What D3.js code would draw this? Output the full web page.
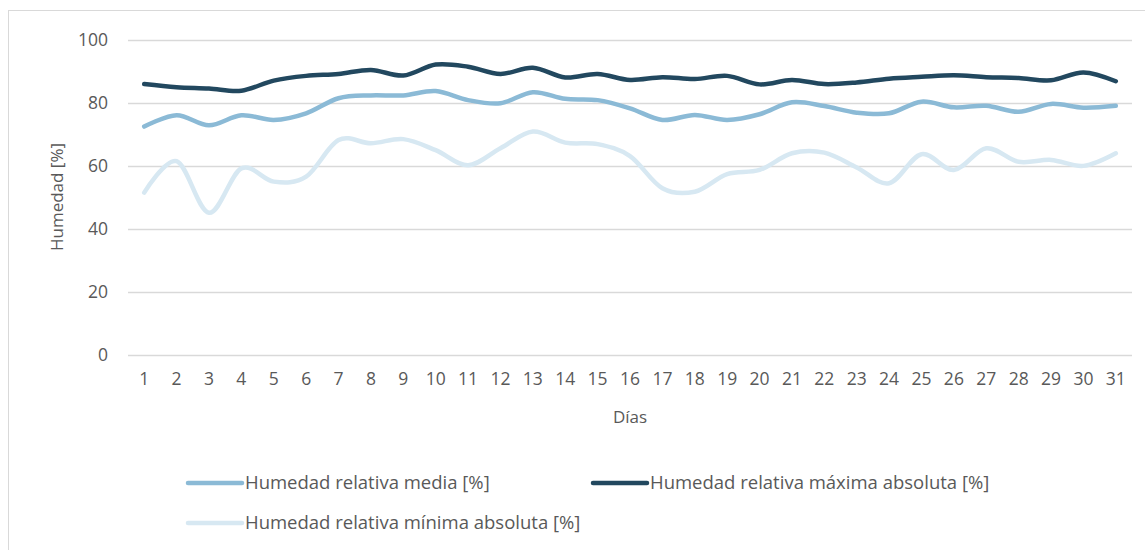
<!DOCTYPE html>
<html>
<head>
<meta charset="utf-8">
<script src="https://cdn.jsdelivr.net/npm/d3@7"></script>
<style>
    body { margin: 0; background: #fff; }
    svg text { font-family: "Open Sans", sans-serif; fill: #595959; }
</style>
</head>
<body>
<div id="chart"></div>
<script>
const days = d3.range(1, 32).map(String);
const yTicks = [0, 20, 40, 60, 80, 100];

const media = [72.5, 76.1, 72.9, 76.1, 74.6, 76.7, 81.5, 82.4, 82.4, 83.8,
    80.9, 79.9, 83.4, 81.3, 80.9, 78.3, 74.6, 76.2, 74.6, 76.4,
    80.2, 79.0, 76.9, 76.7, 80.4, 78.6, 79.1, 77.2, 79.7, 78.5, 79.1];
const maxima = [86.0, 85.0, 84.6, 83.9, 87.1, 88.6, 89.2, 90.5, 88.7, 92.2,
    91.5, 89.2, 91.2, 88.1, 89.2, 87.3, 88.2, 87.6, 88.6, 85.9,
    87.3, 86.0, 86.5, 87.7, 88.3, 88.8, 88.2, 87.9, 87.2, 89.7, 86.9];
const minima = [51.5, 61.5, 45.1, 59.2, 55.0, 56.6, 68.2, 67.2, 68.5, 65.0,
    60.2, 65.6, 70.9, 67.4, 66.9, 63.1, 52.9, 51.8, 57.4, 58.7,
    64.0, 64.2, 59.5, 54.5, 63.7, 58.7, 65.6, 61.3, 61.9, 60.0, 64.0];

const seriesNames = [
    'Humedad relativa media [%]',
    'Humedad relativa máxima absoluta [%]',
    'Humedad relativa mínima absoluta [%]'
];
const seriesColors = ['#8bbad6', '#22485f', '#d7e8f2'];

const width = 1145, height = 550;
const plot = { left: 128, right: 1132, top: 40, bottom: 354.7 };

const svg = d3.select('#chart')
    .append('svg')
    .attr('width', width)
    .attr('height', height);

// chart frame (only top and left edges visible)
svg.append('rect')
    .attr('x', 8.5)
    .attr('y', 10.5)
    .attr('width', 1160)
    .attr('height', 560)
    .attr('fill', 'none')
    .attr('stroke', '#d9d9d9')
    .attr('stroke-width', 1);

const x = d3.scaleBand()
    .domain(days)
    .range([plot.left, plot.right]);

const y = d3.scaleLinear()
    .domain([0, 100])
    .range([plot.bottom, plot.top]);

// gridlines
svg.append('g')
    .selectAll('line')
    .data(yTicks)
    .enter()
    .append('line')
    .attr('x1', plot.left)
    .attr('x2', plot.right)
    .attr('y1', d => Math.round(y(d)) + 0.5)
    .attr('y2', d => Math.round(y(d)) + 0.5)
    .attr('stroke', '#d9d9d9')
    .attr('stroke-width', 1.3);

// y axis labels
const yAxis = svg.append('g')
    .attr('transform', `translate(${plot.left - 20},0)`)
    .call(d3.axisLeft(y).tickValues(yTicks).tickSize(0).tickPadding(0));
yAxis.select('.domain').remove();
yAxis.selectAll('text')
    .style('font-size', '17.5px')
    .style('font-family', '"Open Sans", sans-serif')
    .attr('fill', '#595959');

// x axis labels
const xAxis = svg.append('g')
    .attr('transform', `translate(0,${plot.bottom + 18})`)
    .call(d3.axisBottom(x).tickSize(0).tickPadding(0));
xAxis.select('.domain').remove();
xAxis.selectAll('text')
    .style('font-size', '17.5px')
    .style('font-family', '"Open Sans", sans-serif')
    .attr('fill', '#595959');

// axis titles
svg.append('text')
    .attr('transform', 'translate(63,197) rotate(-90)')
    .attr('text-anchor', 'middle')
    .style('font-size', '17px')
    .text('Humedad [%]');

svg.append('text')
    .attr('x', 630)
    .attr('y', 423)
    .attr('text-anchor', 'middle')
    .style('font-size', '17px')
    .text('Días');

// lines
const line = d3.line()
    .x((d, i) => x(days[i]) + x.bandwidth() / 2)
    .y(d => y(d))
    .curve(d3.curveCatmullRom.alpha(0));

const allSeries = [media, maxima, minima];
const drawOrder = [0, 1, 2];

svg.append('g')
    .selectAll('path')
    .data(drawOrder)
    .enter()
    .append('path')
    .attr('d', i => line(allSeries[i]))
    .attr('fill', 'none')
    .attr('stroke', i => seriesColors[i])
    .attr('stroke-width', 4.5)
    .attr('stroke-linecap', 'round')
    .attr('stroke-linejoin', 'round');

// legend
const legendPos = [
    { x: 188, y: 483 },
    { x: 593, y: 483 },
    { x: 188, y: 523 }
];

const legend = svg.append('g')
    .selectAll('g')
    .data(seriesNames)
    .enter()
    .append('g')
    .attr('transform', (d, i) => `translate(${legendPos[i].x},${legendPos[i].y})`);

legend.append('line')
    .attr('x1', 0)
    .attr('x2', 54)
    .attr('stroke', (d, i) => seriesColors[i])
    .attr('stroke-width', 4.5)
    .attr('stroke-linecap', 'round');

legend.append('text')
    .attr('x', 57)
    .attr('dy', '0.35em')
    .style('font-size', '18.5px')
    .text(d => d);
</script>
</body>
</html>
